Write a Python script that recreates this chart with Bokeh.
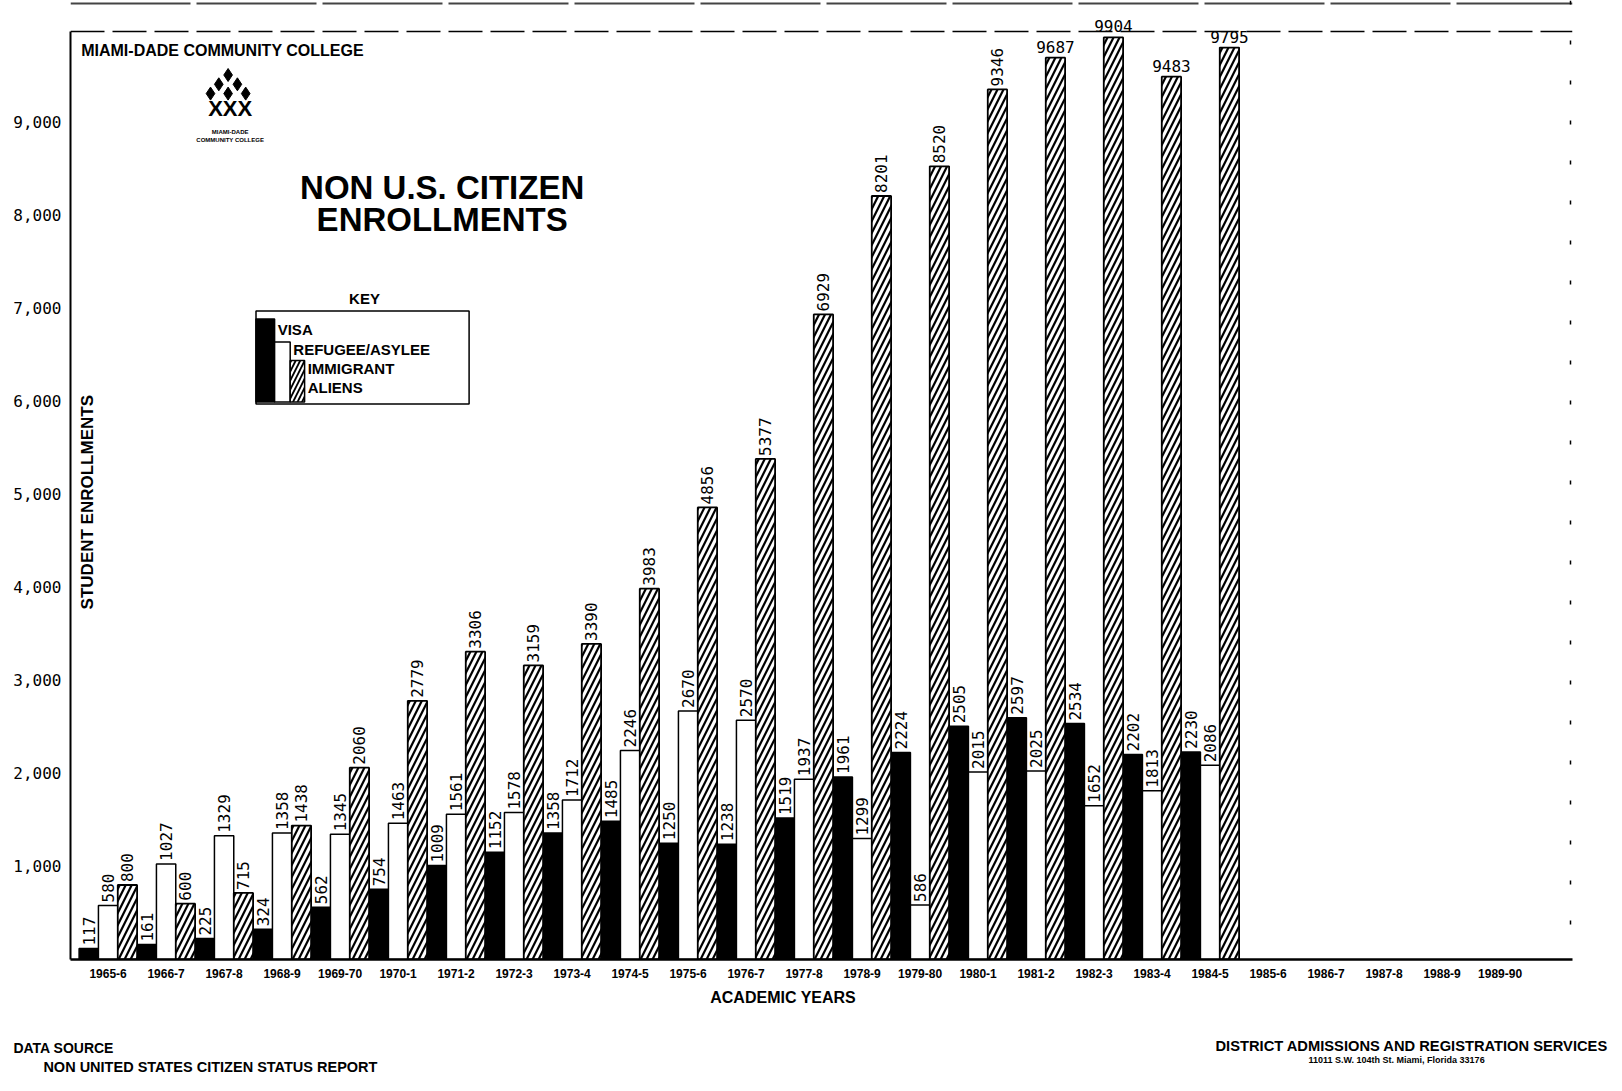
import numpy as np
from bokeh.plotting import figure
from bokeh.layouts import column
from bokeh.models import ColumnDataSource, Range1d, FixedTicker, Label, Span, Div
from bokeh.core.properties import value
from bokeh.embed import file_html
from bokeh.resources import INLINE

# ---------------- data ----------------
years = ["1965-6", "1966-7", "1967-8", "1968-9", "1969-70", "1970-1", "1971-2",
         "1972-3", "1973-4", "1974-5", "1975-6", "1976-7", "1977-8", "1978-9",
         "1979-80", "1980-1", "1981-2", "1982-3", "1983-4", "1984-5", "1985-6",
         "1986-7", "1987-8", "1988-9", "1989-90"]
visa = [117, 161, 225, 324, 562, 754, 1009, 1152, 1358, 1485, 1250, 1238, 1519,
        1961, 2224, 2505, 2597, 2534, 2202, 2230]
refugee = [580, 1027, 1329, 1358, 1345, 1463, 1561, 1578, 1712, 2246, 2670, 2570,
           1937, 1299, 586, 2015, 2025, 1652, 1813, 2086]
immigrant = [800, 600, 715, 1438, 2060, 2779, 3306, 3159, 3390, 3983, 4856, 5377,
             6929, 8201, 8520, 9346, 9687, 9904, 9483, 9795]
y_ticks = [1000, 2000, 3000, 4000, 5000, 6000, 7000, 8000, 9000]
y_tick_labels = ["1,000", "2,000", "3,000", "4,000", "5,000", "6,000", "7,000",
                 "8,000", "9,000"]

# ---------------- geometry (page pixels) ----------------
W = 1606
H_MAIN = 985
H_FOOT = 100
FRAME_L, FRAME_R, FRAME_T, FRAME_B = 70, 1572, 0, 959
GROUP_L, GROUP_W = 78.6, 58.0
PX_PER_UNIT = 0.0931


def fx(px):
    return (px - GROUP_L) / GROUP_W - 0.5


def fy(py):
    return (FRAME_B - py) / PX_PER_UNIT


p = figure(width=W, height=H_MAIN, output_backend="svg", toolbar_location=None,
           x_range=Range1d(fx(FRAME_L), fx(FRAME_R)),
           y_range=Range1d(0, fy(FRAME_T)),
           min_border_left=FRAME_L, min_border_right=W - FRAME_R,
           min_border_top=FRAME_T, min_border_bottom=H_MAIN - FRAME_B)
p.outline_line_color = None
p.grid.visible = False
p.background_fill_color = "white"
p.border_fill_color = "white"

HEAVY = "Liberation Sans"
MONO = "DejaVu Sans Mono"

# ---------------- bars ----------------
n = len(visa)
idx = np.arange(n)
src = ColumnDataSource(dict(xv=idx - 1 / 3, xr=idx + 0.0, xi=idx + 1 / 3,
                            visa=visa, refugee=refugee, immigrant=immigrant))
bw = 1 / 3
p.vbar(x="xv", top="visa", width=bw, source=src, fill_color="black",
       line_color="black", line_width=1.5)
p.vbar(x="xr", top="refugee", width=bw, source=src, fill_color="white",
       line_color="black", line_width=1.5)
p.vbar(x="xi", top="immigrant", width=bw, source=src, fill_color="white",
       line_color="black", line_width=1.8, hatch_pattern="/", hatch_color="black",
       hatch_weight=2.2, hatch_scale=12)

# ---------------- value labels ----------------
rx, ry, rt, hx, hy, ht = [], [], [], [], [], []
for series, off in ((visa, -1 / 3), (refugee, 0.0), (immigrant, 1 / 3)):
    for i, v in enumerate(series):
        if v >= 9400:
            hx.append(i + off); hy.append(v); ht.append(str(v))
        else:
            rx.append(i + off); ry.append(v); rt.append(str(v))

p.text(x=rx, y=ry, text=rt, angle=np.pi / 2, text_align="left",
       text_baseline="middle", y_offset=-3, text_font=value(MONO),
       text_font_size="16px", text_color="black", background_fill_color="white")
p.text(x=hx, y=hy, text=ht, text_align="center", text_baseline="bottom",
       y_offset=-5, text_font=value(MONO), text_font_size="16px",
       text_color="black", background_fill_color="white")

# ---------------- axes ----------------
p.xaxis.ticker = FixedTicker(ticks=list(range(len(years))))
p.xaxis.major_label_overrides = {i: y for i, y in enumerate(years)}
p.xaxis.major_tick_line_color = None
p.xaxis.minor_tick_line_color = None
p.xaxis.axis_line_width = 2.5
p.xaxis.axis_line_color = "black"
p.xaxis.major_label_standoff = 3
p.xaxis.major_label_text_font = HEAVY
p.xaxis.major_label_text_font_style = "bold"
p.xaxis.major_label_text_font_size = "12px"
p.xaxis.major_label_text_color = "black"

p.yaxis.ticker = FixedTicker(ticks=y_ticks)
p.yaxis.major_label_overrides = dict(zip(y_ticks, y_tick_labels))
p.yaxis.bounds = (0, fy(31))
p.yaxis.major_tick_line_color = None
p.yaxis.minor_tick_line_color = None
p.yaxis.axis_line_width = 2
p.yaxis.axis_line_color = "black"
p.yaxis.major_label_standoff = 3
p.yaxis.major_label_text_font = MONO
p.yaxis.major_label_text_font_size = "16px"
p.yaxis.major_label_text_color = "black"

# frame borders
p.add_layout(Span(location=fy(31), dimension="width", line_color="black",
                  line_width=1.5, line_dash="34 8"))
p.add_layout(Span(location=fy(3), dimension="width", line_color="#444444",
                  line_width=2, line_dash="120 6"))
p.add_layout(Span(location=fx(1570), dimension="height", line_color="black",
                  line_width=1.5, line_dash="4 36"))

# ---------------- key ----------------
p.quad(left=[fx(255.5)], right=[fx(468.6)], top=[fy(310.4)], bottom=[fy(403.4)],
       fill_color=None, line_color="black", line_width=1.5)
p.quad(left=[fx(255.5)], right=[fx(274.1)], top=[fy(318.6)], bottom=[fy(401.4)],
       fill_color="black", line_color="black", line_width=1.5)
p.quad(left=[fx(274.1)], right=[fx(289.7)], top=[fy(341.4)], bottom=[fy(401.4)],
       fill_color="white", line_color="black", line_width=1.5)
p.quad(left=[fx(289.7)], right=[fx(304.1)], top=[fy(360.0)], bottom=[fy(401.4)],
       fill_color="white", line_color="black", line_width=1.5,
       hatch_pattern="/", hatch_color="black", hatch_weight=1.8, hatch_scale=9)


def lab(px, py, text, size, align="left", bold=True, font=HEAVY, angle=0.0,
        baseline="middle"):
    p.add_layout(Label(x=fx(px), y=fy(py), text=text, text_font=font,
                       text_font_size=size, text_align=align,
                       text_baseline=baseline, angle=angle,
                       text_font_style="bold" if bold else "normal",
                       text_color="black"))


lab(364, 298, "KEY", "15px", align="center")
lab(277.2, 329, "VISA", "15px")
lab(292.8, 348.6, "REFUGEE/ASYLEE", "15px")
lab(307.2, 368.3, "IMMIGRANT", "15px")
lab(307.2, 386.9, "ALIENS", "15px")

# ---------------- titles & logo ----------------
lab(80.7, 49.7, "MIAMI-DADE COMMUNITY COLLEGE", "16px")
p.scatter(x=[fx(227.6), fx(218.3), fx(236.9), fx(210.0), fx(227.6), fx(245.2)],
          y=[fy(74.5), fy(83.8), fy(83.8), fy(93.1), fy(93.1), fy(93.1)],
          marker="diamond", size=13, fill_color="black", line_color="black")
lab(229.7, 108.0, "XXX", "22px", align="center")
lab(229.7, 131.5, "MIAMI-DADE", "6px", align="center")
lab(229.7, 139.5, "COMMUNITY COLLEGE", "6px", align="center")

lab(441.7, 187.2, "NON U.S. CITIZEN", "33px", align="center")
lab(441.7, 219.3, "ENROLLMENTS", "33px", align="center")

lab(86.9, 501.7, "STUDENT ENROLLMENTS", "17px", align="center", angle=np.pi / 2)

# ---------------- footer (HTML) ----------------
footer_items = [
    (783.0, 998.3, "ACADEMIC YEARS", 16, "center"),
    (13.4, 1048.0, "DATA SOURCE", 14, "left"),
    (43.4, 1066.6, "NON UNITED STATES CITIZEN STATUS REPORT", 14.5, "left"),
    (1215.5, 1045.9, "DISTRICT ADMISSIONS AND REGISTRATION SERVICES", 14.7, "left"),
    (1396.6, 1060.4, "11011 S.W. 104th St. Miami, Florida 33176", 9, "center"),
]
spans = []
for px, py, text, size, align in footer_items:
    tx = "-50%" if align == "center" else "0"
    spans.append(
        f"<span style='position:absolute;left:{px:.1f}px;top:{py - H_MAIN:.1f}px;"
        f"transform:translate({tx},-50%);white-space:nowrap;"
        f"font-family:\"{HEAVY}\";font-weight:bold;font-size:{size}px;"
        f"color:black;line-height:1'>{text}</span>")
footer = Div(text="<div style='position:relative;width:%dpx;height:%dpx;"
                  "background:white'>%s</div>" % (W, H_FOOT, "".join(spans)),
             width=W, height=H_FOOT, margin=0)

open("out.html", "w").write(file_html(column(p, footer), INLINE))
